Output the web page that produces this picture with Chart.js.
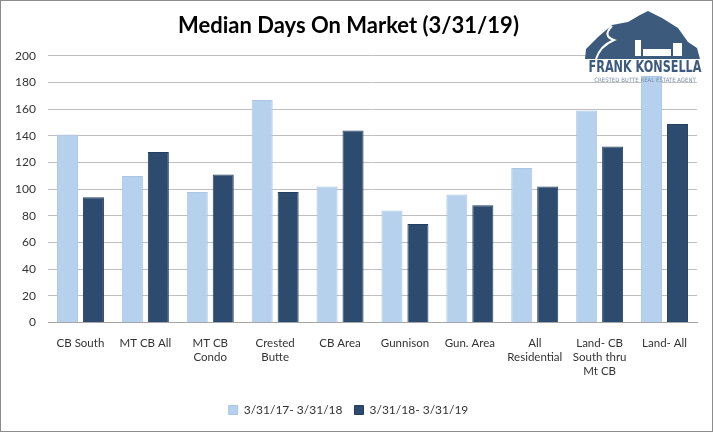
<!DOCTYPE html>
<html>
<head>
<meta charset="utf-8">
<script src="https://cdn.jsdelivr.net/npm/chart.js@4"></script>
<style>
  html, body { margin: 0; padding: 0; background: #fff; }
  #wrap { width: 713px; height: 432px; position: relative; }
</style>
</head>
<body>
<div id="wrap"><canvas id="bar-chart" width="713" height="432"></canvas></div>
<script>
const categories = [
  'CB South',
  'MT CB All',
  ['MT CB', 'Condo'],
  ['Crested', 'Butte'],
  'CB Area',
  'Gunnison',
  'Gun. Area',
  ['All', 'Residential'],
  ['Land- CB', 'South thru', 'Mt CB'],
  'Land- All',
];
const series1Label = '3/31/17- 3/31/18';
const series2Label = '3/31/18- 3/31/19';
const series1 = [141, 110, 98, 167, 102, 84, 96, 116, 159, 185];
const series2 = [94, 128, 111, 98, 144, 74, 88, 102, 132, 149];
const yTicks = [0, 20, 40, 60, 80, 100, 120, 140, 160, 180, 200];

// frame round the picture and the logo in the top right corner
const decor = {
  id: 'decor',
  afterDraw(chart) {
    const c = chart.ctx;
    c.save();
    c.strokeStyle = '#8c8c8c';
    c.lineWidth = 1;
    c.strokeRect(0.5, 0.5, 712, 431);

    c.fillStyle = '#3b5a7c';
    c.beginPath();
    c.moveTo(585, 59);
    c.lineTo(586, 49);
    c.lineTo(598, 37);
    c.lineTo(612, 25);
    c.lineTo(628, 22);
    c.lineTo(640, 15);
    c.lineTo(648, 11);
    c.lineTo(662, 18);
    c.lineTo(678, 28);
    c.lineTo(688, 42);
    c.lineTo(697, 48);
    c.lineTo(700, 59);
    c.closePath();
    c.fill();

    c.strokeStyle = '#ffffff';
    c.lineWidth = 2;
    c.beginPath();
    c.moveTo(612, 26);
    c.quadraticCurveTo(602, 36, 614, 40);
    c.quadraticCurveTo(600, 46, 596, 59);
    c.stroke();

    c.fillStyle = '#ffffff';
    c.fillRect(635, 40, 6, 16);
    c.fillRect(643, 49, 28, 7);
    c.fillRect(673, 43, 9, 13);

    c.fillStyle = '#3b5a7c';
    c.font = 'bold 16px "DejaVu Sans Condensed", sans-serif';
    c.textAlign = 'center';
    c.textBaseline = 'top';
    c.save();
    c.translate(645, 60);
    c.scale(0.78, 1);
    c.fillText('FRANK KONSELLA', 0, 0);
    c.restore();
    c.fillStyle = '#7a8ea8';
    c.font = '6px "DejaVu Sans Condensed", sans-serif';
    c.fillText('CRESTED BUTTE REAL ESTATE AGENT', 645, 77);
    c.restore();
  }
};

new Chart(document.getElementById('bar-chart').getContext('2d'), {
  type: 'bar',
  data: {
    labels: categories,
    datasets: [
      {
        label: series1Label,
        data: series1,
        backgroundColor: '#b5d1ed',
        borderColor: '#a9c6e4',
        borderWidth: 1,
        categoryPercentage: 0.8,
        barPercentage: 0.81,
      },
      {
        label: series2Label,
        data: series2,
        backgroundColor: '#2d4b6e',
        borderColor: '#243e5e',
        borderWidth: 1,
        categoryPercentage: 0.8,
        barPercentage: 0.81,
      },
    ],
  },
  options: {
    responsive: false,
    animation: false,
    layout: { padding: { left: 0, right: 16, top: 0, bottom: 6 } },
    plugins: {
      title: {
        display: true,
        text: 'Median Days On Market (3/31/19)',
        color: '#000',
        font: { family: 'Lato', size: 22, weight: 'bold' },
        padding: { top: 13, bottom: 16.5 },
      },
      legend: {
        position: 'bottom',
        labels: {
          boxWidth: 9,
          boxHeight: 9,
          color: '#333',
          font: { family: 'Lato', size: 12 },
          padding: 12,
        },
      },
      tooltip: { enabled: false },
    },
    scales: {
      x: {
        afterFit(scale) { scale.height += 8; },
        grid: { display: false },
        border: { color: '#a6a6a6' },
        ticks: {
          color: '#333',
          font: { family: 'Lato', size: 11.5 },
          maxRotation: 0,
          autoSkip: false,
          padding: 6,
        },
      },
      y: {
        min: 0,
        max: 200,
        afterBuildTicks(scale) { scale.ticks = yTicks.map(v => ({ value: v })); },
        afterFit(scale) { scale.width = 48; },
        grid: { color: '#bfbfbf', drawTicks: false },
        border: { display: false },
        ticks: {
          color: '#333',
          font: { family: 'Lato', size: 12 },
          padding: 12,
        },
      },
    },
  },
  plugins: [decor],
});
</script>
</body>
</html>
